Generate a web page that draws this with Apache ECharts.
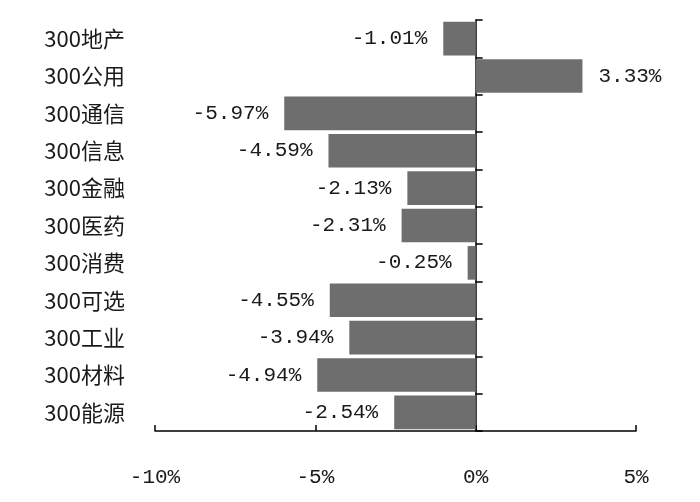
<!DOCTYPE html>
<html><head><meta charset="utf-8">
<script src="https://cdn.jsdelivr.net/npm/echarts@6/dist/echarts.min.js"></script>
<style>html,body{margin:0;padding:0;background:#fff}#c{width:700px;height:502px}</style>
</head><body><div id="c"></div>
<script>
var categories = ['300地产','300公用','300通信','300信息','300金融','300医药','300消费','300可选','300工业','300材料','300能源'];
var values = [-1.01, 3.33, -5.97, -4.59, -2.13, -2.31, -0.25, -4.55, -3.94, -4.94, -2.54];
var xTicks = [-10, -5, 0, 5];

var chart = echarts.init(document.getElementById('c'), null, {renderer:'canvas'});
var monoFont = '"Liberation Mono", "DejaVu Sans Mono", monospace';
var data = values.map(function(v){
  return {
    value: v,
    label: { position: v < 0 ? 'left' : 'right' }
  };
});
chart.setOption({
  animation: false,
  backgroundColor: '#fff',
  grid: { left: 155, right: 64, top: 20, bottom: 71, containLabel: false },
  xAxis: {
    type: 'value', min: xTicks[0], max: xTicks[xTicks.length-1], interval: 5,
    axisLine: { show: true, lineStyle: { color: '#000', width: 1.5 } },
    axisTick: { show: true, inside: true, length: 6, lineStyle: { color: '#000', width: 1.5 } },
    splitLine: { show: false },
    axisLabel: { formatter: '{value}%', margin: 36, fontSize: 21, color: '#1a1a1a', fontFamily: monoFont }
  },
  yAxis: [{
    type: 'category', data: categories, inverse: true,
    axisLine: { show: true, onZero: true, lineStyle: { color: '#000', width: 1.5 } },
    axisTick: { show: true, inside: true, length: 7, alignWithLabel: false, lineStyle: { color: '#000', width: 1.5 } },
    axisLabel: { show: false }
  }, {
    type: 'category', data: categories, inverse: true, position: 'left',
    axisLine: { show: false, onZero: false },
    axisTick: { show: false },
    axisLabel: { show: true, margin: 30, fontSize: 22, color: '#1a1a1a', fontFamily: '"Noto Sans CJK SC", sans-serif' }
  }],
  series: [{
    type: 'bar', yAxisIndex: 0, data: data,
    barCategoryGap: '10%',
    itemStyle: { color: '#6e6e6e' },
    label: {
      show: true, distance: 16, fontSize: 21, color: '#1a1a1a', fontFamily: monoFont,
      formatter: function(p){ return p.value.toFixed(2) + '%'; }
    }
  }]
});
</script></body></html>
